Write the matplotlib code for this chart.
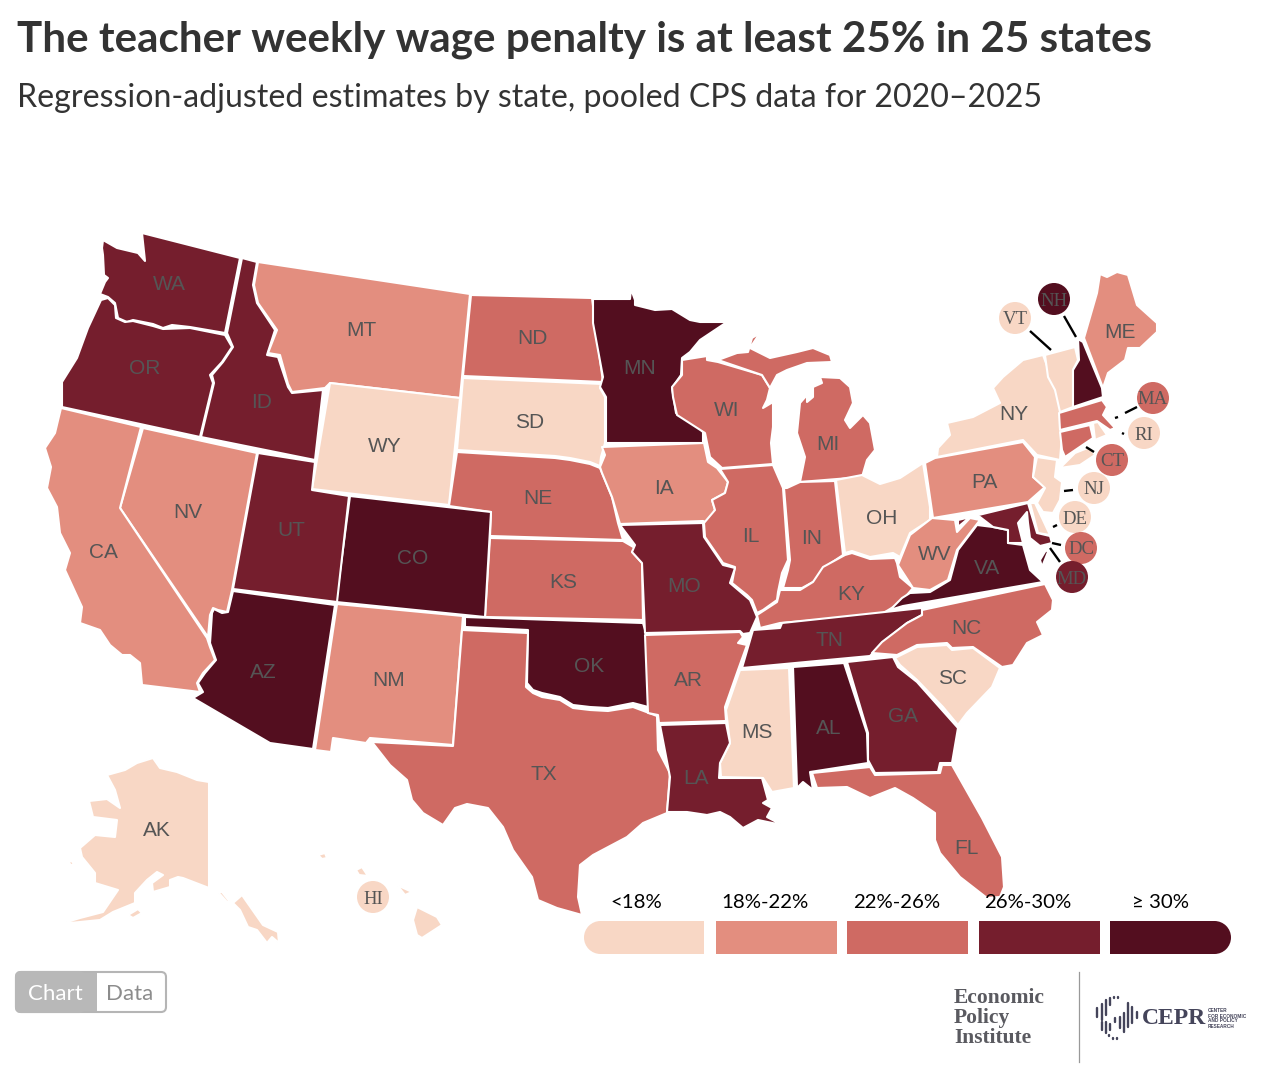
import matplotlib
matplotlib.use("Agg")
import matplotlib.pyplot as plt
from matplotlib.patches import Polygon, Circle, Rectangle, FancyBboxPatch

# Legend bins and who falls in them
bin_labels = ["<18%", "18%-22%", "22%-26%", "26%-30%", "\u2265 30%"]
bin_colors = ["#f8d7c5", "#e38e7f", "#cf6a63", "#751e2d", "#530e1f"]
bin_0 = ["AK", "HI", "WY", "SD", "OH", "NY", "VT", "NJ", "DE", "RI", "MS", "SC"]
bin_1 = ["MT", "CA", "NV", "NM", "IA", "PA", "WV", "ME"]
bin_2 = ["ND", "NE", "KS", "TX", "WI", "MI", "IL", "IN", "KY", "NC", "AR", "FL", "MA", "CT", "DC"]
bin_3 = ["WA", "OR", "ID", "UT", "MO", "TN", "GA", "LA", "MD"]
bin_4 = ["MN", "CO", "AZ", "OK", "AL", "VA", "NH"]
state_bins = [bin_0, bin_1, bin_2, bin_3, bin_4]

title = "The teacher weekly wage penalty is at least 25% in 25 states"
subtitle = "Regression-adjusted estimates by state, pooled CPS data for 2020\u20132025"

# State outlines, in image pixels
outlines = {
    "WA": [[(103,240),(117,248),(138,253),(145,261),(142,233),(240,258),(225,333),(190,327),(172,325),(163,328),(153,324),(133,320),(127,322),(118,318),(115,303),(108,297),(100,294),(105,282),(108,278),(104,275),(103,255),(102,248)]],
    "OR": [[(101,300),(108,298),(115,305),(116,318),(125,322),(133,321),(153,326),(163,329),(190,328),(225,335),(232,347),(222,362),(210,375),(213,383),(200,437),(62,407),(62,382),(77,358),(88,328)]],
    "ID": [[(242,258),(257,262),(253,285),(257,303),(275,330),(267,355),(278,357),(288,387),(292,393),(323,390),(315,460),(201,437),(214,383),(212,375),(223,362),(233,347),(227,333)]],
    "MT": [[(258,262),(470,294),(460,398),(330,383),(325,388),(292,392),(288,384),(280,355),(268,353),(277,330),(258,303),(254,285)]],
    "WY": [[(330,383),(460,398),(449,505),(312,489)]],
    "ND": [[(471,295),(592,298),(598,345),(603,382),(463,376)]],
    "SD": [[(463,378),(603,384),(600,388),(605,397),(605,443),(601,457),(600,466),(590,462),(570,458),(555,456),(457,450)]],
    "NE": [[(457,452),(555,458),(570,460),(590,464),(600,468),(612,497),(618,523),(623,540),(490,536),(491,512),(449,506)]],
    "KS": [[(490,538),(623,541),(635,548),(632,552),(642,563),(643,620),(485,617)]],
    "CO": [[(350,496),(491,512),(485,617),(336,602)]],
    "UT": [[(258,453),(315,462),(312,490),(349,496),(337,602),(233,589)]],
    "NV": [[(143,428),(257,453),(232,590),(227,612),(218,610),(213,608),(210,615),(208,637),(120,508)]],
    "CA": [[(61,408),(141,427),(120,508),(207,638),(210,647),(215,660),(203,673),(197,683),(200,692),(142,685),(140,663),(130,655),(122,655),(110,645),(100,630),(80,623),(82,607),(65,570),(70,553),(60,533),(57,507),(47,488),(51,467),(45,448),(55,433)]],
    "AZ": [[(233,591),(335,605),(313,749),(270,743),(193,698),(203,692),(198,683),(205,673),(216,660),(210,643),(212,613),(214,609),(222,613),(228,612)]],
    "NM": [[(337,604),(463,616),(453,745),(370,738),(366,743),(333,738),(331,752),(315,750)]],
    "OK": [[(465,617),(643,623),(648,640),(652,708),(633,703),(608,708),(590,707),(573,705),(560,697),(542,693),(533,690),(527,683),(528,630),(465,627)]],
    "TX": [[(462,630),(528,633),(526,687),(533,693),(542,697),(560,700),(573,708),(590,710),(608,711),(633,707),(657,716),(658,750),(670,773),(667,813),(643,823),(627,837),(593,855),(580,865),(578,897),(582,915),(557,908),(538,900),(532,877),(513,850),(503,827),(488,808),(467,804),(455,808),(443,825),(423,813),(412,800),(407,780),(390,765),(372,742),(453,746)]],
    "MN": [[(593,299),(630,299),(631,289),(635,300),(635,305),(655,310),(672,309),(690,320),(700,322),(727,322),(700,340),(690,352),(682,358),(681,375),(672,388),(674,400),(676,413),(690,418),(703,432),(703,443),(606,443),(606,397),(600,387),(603,377),(593,323)]],
    "IA": [[(602,447),(704,443),(708,462),(717,468),(728,482),(725,493),(712,500),(715,510),(708,523),(703,521),(620,524),(612,497),(602,473),(600,467),(605,455)]],
    "WI": [[(682,360),(707,356),(707,360),(718,362),(762,375),(770,388),(767,400),(763,408),(773,402),(773,427),(771,443),(773,464),(722,468),(710,457),(705,433),(677,415),(673,397),(672,387),(682,375)]],
    "MI": [[(718,360),(737,353),(748,352),(752,338),(760,333),(750,348),(770,358),(797,352),(813,348),(830,355),(832,362),(807,363),(787,370),(777,375),(770,388),(762,375)],
           [(820,377),(840,378),(850,387),(853,403),(845,420),(850,428),(863,415),(870,423),(875,450),(867,460),(862,477),(800,482),(805,457),(797,433),(800,403),(807,395),(807,402),(813,397),(813,387),(822,383)]],
    "IL": [[(720,469),(773,465),(783,488),(788,560),(782,573),(778,592),(777,600),(763,610),(757,613),(752,600),(747,595),(732,583),(735,567),(723,563),(705,537),(704,523),(715,510),(712,500),(725,493),(728,482)]],
    "IN": [[(784,488),(787,488),(800,482),(835,481),(843,555),(825,567),(822,577),(813,582),(802,588),(783,588),(788,570),(790,560)]],
    "OH": [[(836,480),(862,475),(880,484),(900,478),(923,463),(930,507),(930,520),(910,533),(900,557),(893,553),(870,557),(852,551),(845,553)]],
    "KY": [[(845,555),(852,553),(870,559),(895,558),(897,563),(900,577),(913,588),(900,603),(880,615),(780,623),(760,628),(757,615),(777,602),(780,590),(800,590),(813,582),(823,567)]],
    "TN": [[(742,668),(753,630),(780,628),(782,623),(922,608),(922,615),(907,623),(883,642),(870,656)]],
    "VA": [[(902,598),(910,593),(930,592),(950,580),(958,550),(977,525),(993,527),(1008,530),(1008,543),(1023,545),(1030,570),(1043,582),(903,606),(890,610)],
           [(1046,550),(1048,552),(1042,567),(1040,560)]],
    "WV": [[(932,518),(955,520),(957,532),(970,518),(980,520),(957,550),(948,580),(930,590),(913,588),(898,565),(910,535)]],
    "PA": [[(925,463),(935,458),(1023,442),(1035,457),(1033,477),(1045,487),(1028,502),(933,518)]],
    "NY": [[(937,457),(1023,440),(1037,455),(1060,460),(1063,423),(1057,393),(1043,355),(1023,360),(1003,377),(993,388),(1000,403),(973,417),(947,423),(950,435),(938,448)],
           [(1060,468),(1075,453),(1090,447),(1095,455),(1080,465)]],
    "VT": [[(1045,355),(1075,347),(1078,360),(1073,370),(1073,407),(1060,412),(1055,390),(1048,377)]],
    "NH": [[(1078,339),(1083,342),(1102,388),(1103,397),(1073,407),(1073,370),(1079,360)]],
    "ME": [[(1084,338),(1097,293),(1100,274),(1107,277),(1117,272),(1128,275),(1137,305),(1157,323),(1157,332),(1140,348),(1128,348),(1125,360),(1108,373),(1103,388)]],
    "MA": [[(1059,413),(1102,400),(1107,407),(1103,415),(1115,428),(1128,423),(1110,430),(1097,421),(1060,430)]],
    "CT": [[(1060,432),(1090,425),(1093,438),(1065,457),(1062,450)]],
    "RI": [[(1093,423),(1098,422),(1107,435),(1095,440)]],
    "NJ": [[(1037,457),(1057,460),(1055,477),(1062,482),(1060,500),(1053,513),(1043,512),(1037,503),(1045,488),(1033,477),(1035,467)]],
    "DE": [[(1030,503),(1035,503),(1043,520),(1050,535),(1038,533)]],
    "MD": [[(958,520),(1028,503),(1037,533),(1050,536),(1052,543),(1040,546),(1030,538),(1028,523),(1027,512),(1018,523),(1023,543),(1008,543),(1008,530),(993,527),(980,517),(970,517),(958,527)]],
    "NC": [[(922,610),(1045,584),(1053,600),(1052,610),(1037,622),(1043,635),(1027,643),(1013,665),(1002,667),(973,647),(952,648),(947,643),(917,645),(897,655),(872,653),(882,642),(907,623),(922,615)]],
    "SC": [[(895,658),(917,647),(947,645),(952,650),(973,648),(1000,668),(992,687),(967,713),(958,725),(943,707),(917,680),(900,665)]],
    "GA": [[(847,662),(893,657),(898,667),(917,682),(958,728),(952,763),(940,763),(938,772),(875,773),(868,760),(868,733)]],
    "AL": [[(793,667),(844,663),(867,733),(868,763),(810,772),(813,790),(803,782),(797,788)]],
    "MS": [[(740,670),(789,668),(794,788),(772,792),(763,778),(721,777),(720,763),(730,743),(726,710)]],
    "LA": [[(660,725),(726,723),(730,743),(720,763),(719,778),(762,778),(768,800),(763,803),(772,808),(767,817),(782,825),(758,820),(743,828),(730,817),(720,812),(707,815),(687,812),(667,812),(670,777)]],
    "AR": [[(645,635),(740,632),(743,637),(738,643),(747,645),(738,670),(725,707),(726,721),(659,723),(658,715),(648,713)]],
    "MO": [[(620,525),(703,523),(704,537),(723,565),(735,568),(730,583),(750,600),(757,617),(750,633),(743,634),(740,631),(645,633),(642,563),(632,552),(635,545)]],
    "FL": [[(812,773),(870,767),(875,775),(940,773),(942,765),(952,765),(982,818),(1002,857),(1004,887),(1000,897),(987,898),(960,877),(940,853),(935,840),(935,813),(913,798),(895,788),(870,798),(847,787),(817,788)]],
    "AK": [[(107,775),(125,770),(137,763),(153,758),(160,768),(177,772),(197,780),(209,782),(209,888),(183,878),(178,877),(170,880),(170,887),(153,892),(152,883),(163,875),(157,872),(147,880),(135,893),(135,903),(113,912),(100,920),(80,922),(60,924),(80,918),(103,912),(118,890),(95,883),(95,873),(82,857),(80,848),(95,835),(115,837),(117,820),(93,817),(89,801),(107,799),(120,808),(115,790)],
           [(233,903),(242,895),(263,925),(278,932),(279,943),(272,937),(267,943),(257,930),(248,927),(240,910)],
           [(218,892),(222,892),(230,902),(227,902)],
           [(128,915),(138,909),(142,913),(133,918)],
           [(68,862),(72,861),(74,865),(71,865)]],
    "HI": [[(318,855),(325,853),(327,858),(322,859)],
           [(356,870),(362,867),(368,876),(359,875)],
           [(397,885),(412,892),(405,895)],
           [(417,907),(437,917),(442,925),(422,938),(417,935),(413,920)]],
}

# Label spots on the map itself
label_spots = {
    "WA": (169,283), "OR": (145,367), "ID": (262,401), "MT": (361,329), "WY": (385,445),
    "ND": (532,337), "SD": (530,420), "NE": (538,497), "KS": (563,581), "CO": (413,557),
    "UT": (291,528), "NV": (188,511), "CA": (103,550), "AZ": (263,671), "NM": (389,679),
    "TX": (544,773), "OK": (589,665), "MN": (640,366), "IA": (664,486), "MO": (684,584),
    "AR": (688,678), "LA": (696,777), "WI": (727,408), "IL": (751,534), "MI": (828,442),
    "IN": (812,536), "OH": (882,516), "KY": (851,592), "TN": (830,639), "MS": (757,731),
    "AL": (829,727), "GA": (903,715), "FL": (966,846), "SC": (953,676), "NC": (966,627),
    "VA": (987,567), "WV": (935,552), "PA": (984,480), "NY": (1014,413), "ME": (1120,331),
    "AK": (157,829),
}

# Small states get a bubble and a leader line
bubbles = {
    "VT": (1015,318), "NH": (1054,299), "MA": (1153,398), "RI": (1144,433), "CT": (1112,460),
    "NJ": (1094,488), "DE": (1075,517), "DC": (1081,548), "MD": (1072,577), "HI": (373,897),
}
leaders = [
    [(1030,331),(1051,350)], [(1064,316),(1076,337)], [(1125,413),(1137,407)], [(1115,418),(1118,417)],
    [(1122,433),(1124,434)], [(1086,447),(1094,452)], [(1064,491),(1073,490)], [(1053,527),(1057,525)],
    [(1052,543),(1061,545)], [(1050,548),(1060,562)],
]

# CEPR mark, one vertical stroke per entry
mark_x = [1097, 1102, 1106, 1110, 1114, 1118, 1102, 1106, 1110, 1109, 1113, 1117, 1115, 1120, 1124, 1128, 1132, 1137]
mark_top = [1008, 1004, 1000, 998, 997, 997, 1022, 1022, 1024, 1035, 1038, 1038, 1018, 1017, 1013, 1003, 1007, 1012]
mark_bot = [1017, 1020, 1015, 1005, 998, 998, 1030, 1033, 1030, 1036, 1039, 1039, 1022, 1028, 1032, 1027, 1023, 1018]


def color_of(state):
    for colour, members in zip(bin_colors, state_bins):
        if state in members:
            return colour
    return "#cccccc"


fig = plt.figure(figsize=(12.61, 10.68), dpi=100)
ax = fig.add_axes([0, 0, 1, 1])
ax.set_xlim(0, 1261)
ax.set_ylim(1068, 0)
ax.axis("off")

ax.text(17, 40, title, fontsize=30.3, fontweight="bold", family="Lato", color="#333333", va="center")
ax.text(17, 98, subtitle, fontsize=23.1, family="Lato", color="#333333", va="center")

for state, parts in outlines.items():
    for part in parts:
        ax.add_patch(Polygon(part, closed=True, facecolor=color_of(state), edgecolor="white", linewidth=1.5, joinstyle="round"))

for state, (x, y) in label_spots.items():
    ax.text(x, y + 2, state, fontsize=15, family="Liberation Sans", color="#555555", ha="center", va="center")

for seg in leaders:
    ax.plot([seg[0][0], seg[1][0]], [seg[0][1], seg[1][1]], color="black", linewidth=1.7, solid_capstyle="butt")

for state, (x, y) in bubbles.items():
    ax.add_patch(Circle((x, y), 16, facecolor=color_of(state), edgecolor="none", zorder=4))
    ax.text(x, y + 2, state, fontsize=13.5, family="Liberation Serif", color="#555555", ha="center", va="center", zorder=5)

# Legend strip, outer ends rounded
left_edges = [584, 716, 847, 979, 1110]
label_x = [636, 765, 897, 1028, 1160]
for i, (lab, colour, x0) in enumerate(zip(bin_labels, bin_colors, left_edges)):
    ax.text(label_x[i], 902, lab, fontsize=14.7, family="Lato", color="black", ha="center", va="center", zorder=6)
    if i == 0:
        ax.add_patch(Circle((x0 + 16.5, 937.5), 16.5, facecolor=colour, edgecolor="none"))
        ax.add_patch(Rectangle((x0 + 16, 921), 104, 33, facecolor=colour, edgecolor="none"))
    elif i == 4:
        ax.add_patch(Circle((x0 + 104.5, 937.5), 16.5, facecolor=colour, edgecolor="none"))
        ax.add_patch(Rectangle((x0, 921), 105, 33, facecolor=colour, edgecolor="none"))
    else:
        ax.add_patch(Rectangle((x0, 921), 121, 33, facecolor=colour, edgecolor="none"))

# Chart / Data toggle
ax.add_patch(FancyBboxPatch((20, 976), 142, 32, boxstyle="round,pad=4,rounding_size=5", facecolor="white", edgecolor="#b5b5b5", linewidth=1.5))
ax.add_patch(FancyBboxPatch((20, 976), 60, 32, boxstyle="round,pad=4,rounding_size=5", facecolor="#b8b8b8", edgecolor="#b8b8b8", linewidth=1.5))
ax.add_patch(Rectangle((70, 973), 27, 38, facecolor="#b8b8b8", edgecolor="none"))
ax.text(55, 994, "Chart", fontsize=16, family="Lato", color="white", ha="center", va="center")
ax.text(130, 994, "Data", fontsize=16, family="Lato", color="#8c8c8c", ha="center", va="center")

# Publisher marks
for y, word in zip([998, 1018, 1038], ["Economic", "Policy", "Institute"]):
    ax.text(954, y, word, fontsize=15.5, fontweight="bold", family="Liberation Serif", color="#5a5a60", va="center")
ax.plot([1079, 1079], [972, 1062], color="#999999", linewidth=0.9)
for x, y0, y1 in zip(mark_x, mark_top, mark_bot):
    ax.plot([x, x], [y0, y1], color="#44445a", linewidth=1.7, solid_capstyle="round")
ax.text(1142, 1019, "CEPR", fontsize=17, fontweight="bold", family="Liberation Serif", color="#44445a", va="center")
for y, word in zip([1011, 1016, 1021, 1027], ["CENTER", "FOR ECONOMIC", "AND POLICY", "RESEARCH"]):
    ax.text(1208, y, word, fontsize=3.4, fontweight="bold", family="Liberation Sans", color="#44445a", va="center")

fig.savefig("out.png", dpi=100)
